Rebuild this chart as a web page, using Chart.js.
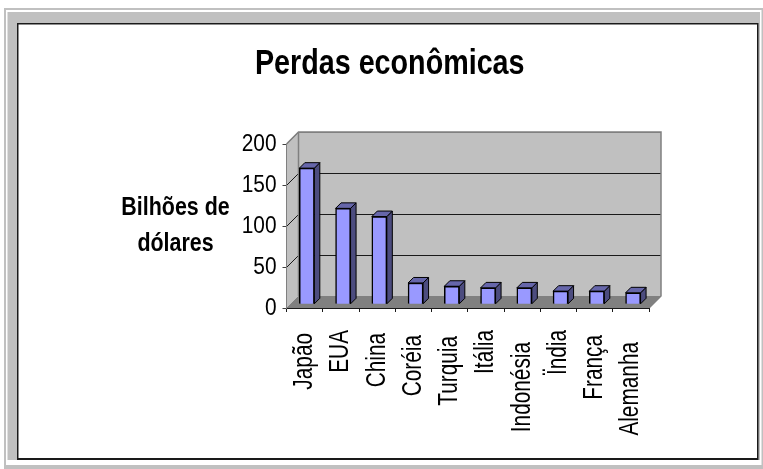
<!DOCTYPE html>
<html><head><meta charset="utf-8">
<style>html,body{margin:0;padding:0;background:#fff}canvas{display:block}</style>
<script src="https://cdn.jsdelivr.net/npm/chart.js@4"></script>
</head><body><canvas id="c" width="763" height="469"></canvas>
<script>
const categories = ['Japão','EUA','China','Coréia','Turquia','Itália','Indonésia','Ïndia','França','Alemanha'];
const values = [166,117,107,26,22,20,20,16,16,14];
const yTicks = [0,50,100,150,200];
const chartTitle = 'Perdas econômicas';
const yTitleLines = ['Bilhões de','dólares'];

const FONT = '"Liberation Sans",Arial,sans-serif';
const labelNudge = [3,0,3,5,6,0,12,0,5,12];
const DEPTH = 12, BAR_DX = 2.2, BAR_DY = -3.7, BAR_D = 5.5;

const canvas = document.getElementById('c');
const rawCtx = canvas.getContext('2d');
const rawFillText = rawCtx.fillText.bind(rawCtx);
function squeezeFor(){
  if (rawCtx.getTransform().b !== 0) return 0.77;      // rotated category labels
  if (rawCtx.font.includes('24px')) return 0.87;       // value ticks
  return rawCtx.font.includes('35px') ? 0.82 : 0.84;   // title, axis title
}
rawCtx.fillText = function(t,x,y,m){
  const k = squeezeFor();
  rawCtx.save();
  rawCtx.translate(x,y);
  rawCtx.scale(k,1);
  rawFillText(t,0,0,m);
  rawCtx.restore();
};

const scene = {
  id:'scene',
  afterUpdate(chart){
    const xs = chart.scales.x;
    xs.getLabelItems(chart.chartArea).forEach((it,i)=>{ it.options.translation[1] += labelNudge[i]; });
  },
  beforeDraw(chart){
    const c = chart.ctx, a = chart.chartArea, ys = chart.scales.y;
    const W = chart.width, H = chart.height;
    c.save();
    c.fillStyle='#fff'; c.fillRect(0,0,W,H);
    c.fillStyle='#c0c0c0'; c.fillRect(4,8,W-4,H-8);
    c.fillStyle='#fff'; c.fillRect(6,10,755.5,455);
    c.fillStyle='#c0c0c0'; c.fillRect(7.5,12,752.5,448);
    c.fillStyle='#1a1a1a'; c.fillRect(17,23,741.5,437);
    c.fillStyle='#fff'; c.fillRect(18.5,24.5,738.5,433.5);

    const L=a.left,R=a.right,T=a.top,B=a.bottom,d=DEPTH;
    c.fillStyle='#c0c0c0';
    c.fillRect(L+d,T-d,R-L,B-T);
    c.beginPath();c.moveTo(L,B);c.lineTo(L+d,B-d);c.lineTo(L+d,T-d);c.lineTo(L,T);c.closePath();c.fill();
    c.fillStyle='#808080';
    c.beginPath();c.moveTo(L,B);c.lineTo(L+d,B-d);c.lineTo(R+d,B-d);c.lineTo(R,B);c.closePath();c.fill();
    c.lineWidth=1;
    yTicks.forEach(v=>{
      const y=Math.round(ys.getPixelForValue(v))+0.5;
      c.strokeStyle = (v===0||v===200)?'#808080':'#1a1a1a';
      c.beginPath();c.moveTo(L,y);c.lineTo(L+d,y-d);c.lineTo(R+d,y-d);c.stroke();
    });
    c.strokeStyle='#808080';c.lineWidth=1.5;
    c.beginPath();c.moveTo(L,T);c.lineTo(L+d,T-d);c.lineTo(R+d,T-d);c.lineTo(R+d,B-d);c.lineTo(R,B);c.stroke();
    c.beginPath();c.moveTo(L+d,T-d);c.lineTo(L+d,B-d);c.stroke();
    c.fillStyle='#000';c.font='bold 25.5px '+FONT;c.textAlign='center';c.textBaseline='alphabetic';
    yTitleLines.forEach((t,i)=>c.fillText(t,175.5,215+i*35.5));
    c.restore();
  },
  beforeDatasetsDraw(chart){
    const c=chart.ctx; c.save(); c.translate(BAR_DX,BAR_DY);
    chart.getDatasetMeta(0).data.forEach(bar=>{
      const p=bar.getProps(['x','y','base','width'],true);
      const l=p.x-p.width/2,r=p.x+p.width/2,t=p.y,b=p.base,e=BAR_D;
      c.strokeStyle='#000';c.lineWidth=1;c.lineJoin='round';
      c.fillStyle='#4c4c7f';
      c.beginPath();c.moveTo(r,t);c.lineTo(r+e,t-e);c.lineTo(r+e,b-e);c.lineTo(r,b);c.closePath();c.fill();c.stroke();
      c.fillStyle='#6666aa';
      c.beginPath();c.moveTo(l,t);c.lineTo(l+e,t-e);c.lineTo(r+e,t-e);c.lineTo(r,t);c.closePath();c.fill();c.stroke();
    });
  },
  afterDatasetsDraw(chart){ chart.ctx.restore(); }
};

new Chart(canvas,{
  type:'bar',
  data:{labels:categories,datasets:[{data:values,backgroundColor:'#9999ff',borderColor:'#000',borderWidth:1.5,barThickness:15}]},
  plugins:[scene],
  options:{
    responsive:false,animation:false,
    layout:{padding:{left:130.5,right:114,top:0,bottom:0}},
    plugins:{
      legend:{display:false},tooltip:{enabled:false},
      title:{display:true,text:chartTitle,color:'#000',align:'center',
        font:{family:FONT,size:35,weight:'bold',lineHeight:1},padding:{top:47,bottom:62}}
    },
    scales:{
      x:{
        afterFit(s){s.height=161;},
        grid:{offset:true,drawOnChartArea:false,drawTicks:true,tickLength:4,color:'#1a1a1a'},
        border:{color:'#1a1a1a'},
        ticks:{autoSkip:false,minRotation:90,maxRotation:90,padding:18,color:'#000',font:{family:FONT,size:27}}
      },
      y:{
        min:0,max:200,
        afterFit(s){s.width=156;},
        afterBuildTicks(s){s.ticks=yTicks.map(v=>({value:v}));},
        grid:{drawOnChartArea:false,drawTicks:true,tickLength:4,color:'#404040'},
        border:{color:'#808080'},
        ticks:{padding:6,color:'#000',font:{family:FONT,size:24}}
      }
    }
  }
});
</script></body></html>
